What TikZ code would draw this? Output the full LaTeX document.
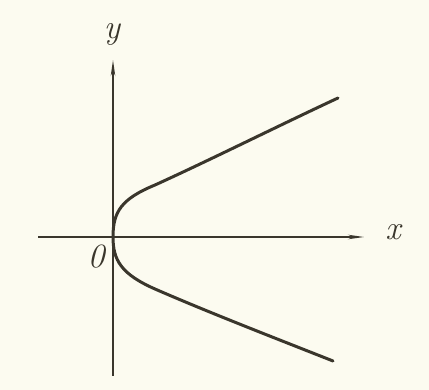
\documentclass[tikz,border=0pt]{standalone}
\usepackage{fontspec}
\usetikzlibrary{arrows.meta}
\definecolor{paper}{RGB}{252,251,240}
\definecolor{ink}{RGB}{58,54,44}
\tikzset{
  axis/.style={draw=ink, line width=1.5pt, -{Stealth[length=16pt,width=4.5pt]}},
  curve/.style={draw=ink, line width=3pt, line cap=round},
  lbl/.style={text=ink, inner sep=0pt, font=\fontsize{34}{34}\selectfont\itshape}
}
\begin{document}
\begin{tikzpicture}[x=1pt,y=-1pt]
\fill[paper] (0,0) rectangle (429,390);
\useasboundingbox (0,0) rectangle (429,390);
\coordinate (O) at (113,237);
\coordinate (xs) at (38,237);
\coordinate (xe) at (364,237);
\coordinate (ys) at (113,376);
\coordinate (ye) at (113,60);
\coordinate (ue) at (338,98);
\coordinate (le) at (333,361);
\draw[axis] (xs) -- (xe);
\draw[axis] (ys) -- (ye);
\node[lbl] (ylab) at (112,34) {y};
\node[lbl] (xlab) at (393,232) {x};
\node[lbl] (olab) at (96,257) {0};
\draw[curve] (O) .. controls (113,212) and (121,199) .. (155,185) .. controls (210,160) and (280,125) .. (ue);
\draw[curve] (O) .. controls (113,260) and (121,274) .. (155,289) .. controls (210,313) and (280,340) .. (le);
\end{tikzpicture}
\end{document}
